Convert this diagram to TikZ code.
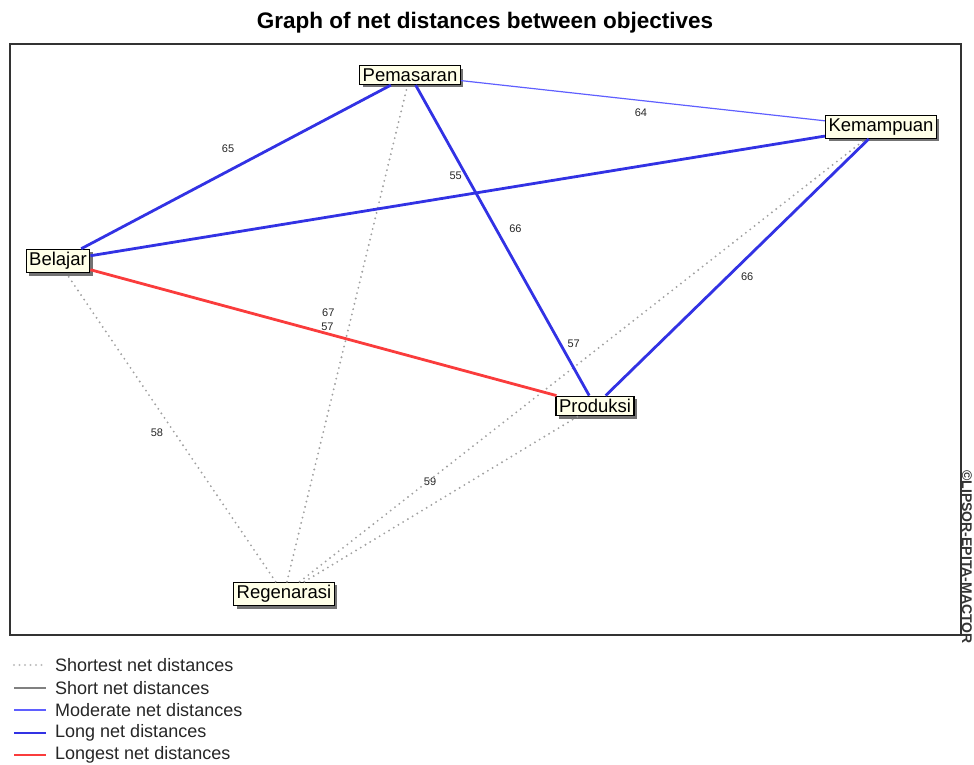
\documentclass[tikz,border=0pt]{standalone}
\usepackage{fontspec}
\setmainfont{Liberation Sans}
\usetikzlibrary{shadows}
\definecolor{longblue}{RGB}{50,50,228}
\definecolor{modblue}{RGB}{95,95,255}
\definecolor{longred}{RGB}{250,60,60}
\definecolor{dotgray}{RGB}{160,160,160}
\definecolor{boxfill}{RGB}{255,255,232}
\begin{document}
\begin{tikzpicture}[x=1pt,y=-1pt,
    obj/.style={draw=black,line width=1.3pt,fill=boxfill,inner xsep=3pt,inner ysep=3pt,
        font=\fontsize{18.5}{20}\selectfont,
        drop shadow={shadow xshift=3pt,shadow yshift=-3pt,fill=black!55,opacity=1}},
    shortest/.style={dotgray,line width=2.1pt,dash pattern=on 0pt off 5.5pt,line cap=round},
    short/.style={gray,line width=1.2pt},
    moderate/.style={modblue,line width=1.2pt},
    long/.style={longblue,line width=2.8pt},
    longest/.style={longred,line width=2.8pt},
    dist/.style={font=\fontsize{11}{12}\selectfont,text=black!85,inner sep=0pt},
    legtext/.style={anchor=west,font=\fontsize{18}{19}\selectfont,text=black!85,inner sep=0pt}]
    \useasboundingbox (0,0) rectangle (974,764);
    % title and frame
    \node (title) at (485,23) {\fontsize{22.5}{25}\selectfont\bfseries Graph of net distances between objectives};
    \draw [line width=1.3pt,black!80] (10,44) rectangle (961,635);
    \node [rotate=-90,font=\fontsize{14}{15}\selectfont\bfseries,text=black!80] (copy) at (967,557) {©LIPSOR-EPITA-MACTOR};
    % objectives
    \node [obj] (pem) at (410,75) {Pemasaran};
    \node [obj] (kem) at (881,127) {Kemampuan};
    \node [obj] (bel) at (58,261) {Belajar};
    \node [obj] (pro) at (595,406) {Produksi};
    \node [obj] (reg) at (284,594) {Regenarasi};
    % net distances
    \draw [shortest] (reg) -- (pem) node [dist,midway,xshift=-19pt,yshift=21pt] {67};
    \draw [shortest] (reg) -- (bel) node [dist,midway,xshift=-14pt,yshift=-5pt] {58};
    \draw [shortest] (reg) -- (pro) node [dist,midway,xshift=-11pt,yshift=17pt] {59};
    \draw [shortest] (reg) -- (kem) node [dist,midway,xshift=-9pt,yshift=17pt] {57};
    \draw [moderate] (pem) -- (kem) node [dist,midway,xshift=-2pt,yshift=-12pt] {64};
    \draw [long] (pem) -- (bel) node [dist,midway,xshift=-8pt,yshift=18pt] {65};
    \draw [long] (bel) -- (kem) node [dist,midway,xshift=-2pt,yshift=20pt] {55};
    \draw [long] (pem) -- (pro) node [dist,midway,xshift=13pt,yshift=12pt] {66};
    \draw [long] (kem) -- (pro) node [dist,midway,xshift=10pt,yshift=-9pt] {66};
    \draw [longest] (bel) -- (pro) node [dist,midway,xshift=4pt,yshift=6pt] {57};
    % legend
    \draw [shortest,dotgray!70] (14,665) -- (46,665);
    \node [legtext] (l1) at (55,665) {Shortest net distances};
    \draw [short] (14,688) -- (46,688);
    \node [legtext] (l2) at (55,688) {Short net distances};
    \draw [moderate] (14,710) -- (46,710);
    \node [legtext] (l3) at (55,710) {Moderate net distances};
    \draw [long] (14,733) -- (46,733);
    \node [legtext] (l4) at (55,733) {Long net distances};
    \draw [longest] (14,755) -- (46,755);
    \node [legtext] (l5) at (55,755) {Longest net distances};
\end{tikzpicture}
\end{document}
